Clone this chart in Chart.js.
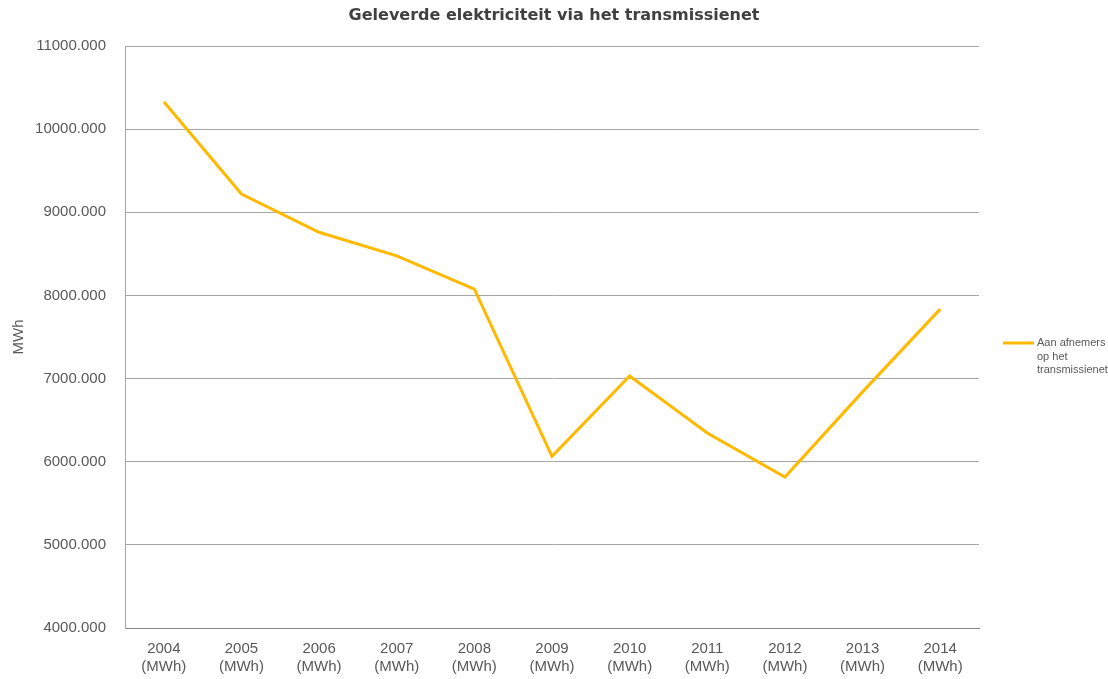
<!DOCTYPE html>
<html>
<head>
<meta charset="utf-8">
<script src="https://cdn.jsdelivr.net/npm/chart.js@4"></script>
<style>
  html, body { margin: 0; padding: 0; background: #fff; }
  #wrap { width: 1108px; height: 679px; }
</style>
</head>
<body>
<div id="wrap"><canvas id="chart"></canvas></div>
<script>
const years = ["2004", "2005", "2006", "2007", "2008", "2009", "2010", "2011", "2012", "2013", "2014"]
const delivered = [10330, 9220, 8760, 8475, 8075, 6065, 7030, 6345, 5815, 6840, 7835]
const seriesLabel = ["Aan afnemers", "op het", "transmissienet"]
const yTicks = [4000, 5000, 6000, 7000, 8000, 9000, 10000, 11000]
const chartTitle = "Geleverde elektriciteit via het transmissienet"

const textFont = "'Liberation Sans', Arial, sans-serif"
const titleFont = "'DejaVu Sans', Verdana, sans-serif"

// title centred over the whole canvas, legend on the right with a wrapped label
const extras = {
  id: "extras",
  afterDraw(chart) {
    const ctx = chart.ctx
    const ds = chart.data.datasets[0]
    ctx.save()
    ctx.fillStyle = "#404040"
    ctx.font = "bold 16px " + titleFont
    ctx.textAlign = "center"
    ctx.textBaseline = "middle"
    ctx.fillText(chartTitle, chart.width / 2, 16)

    const x = chart.chartArea.right + 24
    const y = 343
    ctx.strokeStyle = ds.borderColor
    ctx.lineWidth = 3
    ctx.beginPath()
    ctx.moveTo(x, y)
    ctx.lineTo(x + 31, y)
    ctx.stroke()
    ctx.fillStyle = "#595959"
    ctx.font = "11px " + textFont
    ctx.textAlign = "left"
    seriesLabel.forEach((line, i) => {
      ctx.fillText(line, x + 34, y + i * 13.5)
    })
    ctx.restore()
  },
}

new Chart(document.getElementById("chart"), {
  type: "line",
  data: {
    labels: years.map((y) => [y, "(MWh)"]),
    datasets: [
      {
        label: seriesLabel.join(" "),
        data: delivered,
        borderColor: "#FFB900",
        borderWidth: 3,
        pointRadius: 0,
        tension: 0,
        fill: false,
      },
    ],
  },
  options: {
    responsive: true,
    maintainAspectRatio: false,
    animation: false,
    layout: {
      padding: { left: 0, right: 129, top: 46, bottom: 0 },
    },
    plugins: {
      legend: { display: false },
      tooltip: { enabled: false },
      title: { display: false },
    },
    scales: {
      x: {
        offset: true,
        grid: { display: false, drawTicks: false },
        border: { color: "#868686", width: 1 },
        ticks: {
          color: "#595959",
          font: { family: textFont, size: 15, lineHeight: 1.2 },
          maxRotation: 0,
          padding: 12,
        },
        afterFit: (scale) => {
          scale.height = 51
        },
      },
      y: {
        min: 4000,
        max: 11000,
        afterBuildTicks: (scale) => {
          scale.ticks = yTicks.map((v) => ({ value: v }))
        },
        grid: { color: "#A6A6A6", drawTicks: false },
        border: { color: "#A6A6A6", width: 1 },
        ticks: {
          color: "#595959",
          font: { family: textFont, size: 15 },
          padding: 19,
          callback: (v) => v.toFixed(0) + ".000",
        },
        title: {
          display: true,
          text: "MWh",
          color: "#595959",
          font: { family: textFont, size: 15 },
          padding: { top: 10, bottom: 0 },
        },
        afterFit: (scale) => {
          scale.width = 125
        },
      },
    },
  },
  plugins: [extras],
})
</script>
</body>
</html>
